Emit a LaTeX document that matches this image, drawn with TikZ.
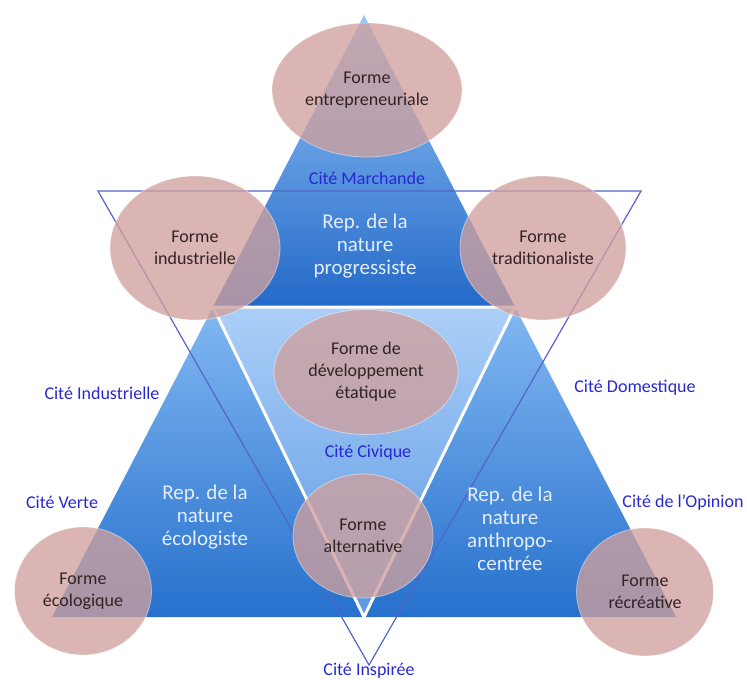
\documentclass[tikz,border=0pt]{standalone}
\usepackage{fontspec}
\setmainfont{Carlito}
\usetikzlibrary{positioning,shapes.geometric}

\definecolor{formefill}{RGB}{207,160,158}
\definecolor{formetext}{RGB}{50,35,35}
\definecolor{citeblue}{RGB}{40,40,210}
\definecolor{reptext}{RGB}{228,237,252}
\definecolor{outlineblue}{RGB}{85,100,200}
\definecolor{topA}{RGB}{150,198,248}
\definecolor{topB}{RGB}{35,105,200}
\definecolor{midA}{RGB}{172,207,248}
\definecolor{midB}{RGB}{90,152,226}
\definecolor{lowA}{RGB}{130,184,242}
\definecolor{lowB}{RGB}{38,112,204}

\begin{document}
\begin{tikzpicture}[x=1bp,y=-1bp,
  forme/.style={ellipse,fill=formefill,fill opacity=0.78,draw=white,draw opacity=0.45,line width=0.8bp,text opacity=1,text=formetext,align=center,inner sep=0pt,font=\fontsize{18bp}{22bp}\selectfont},
  cite/.style={text=citeblue,inner sep=0pt,font=\fontsize{18bp}{22bp}\selectfont},
  rep/.style={text=reptext,align=center,inner sep=0pt,font=\fontsize{21bp}{23bp}\selectfont}]
\useasboundingbox (0,0) rectangle (747,680);

% big triangle and its four parts
\coordinate (apex) at (364,15);
\coordinate (bl) at (52,617);
\coordinate (br) at (676,617);
\coordinate (ml) at (213,307);
\coordinate (mr) at (515,307);
\coordinate (mb) at (364,617);
\shade[top color=topA,bottom color=topB] (apex) -- (ml) -- (mr) -- cycle;
\shade[top color=lowA,bottom color=lowB] (ml) -- (bl) -- (mb) -- cycle;
\shade[top color=lowA,bottom color=lowB] (mr) -- (br) -- (mb) -- cycle;
\shade[top color=midA,bottom color=midB] (ml) -- (mr) -- (mb) -- cycle;
\draw[white,line width=3bp] (ml) -- (mr) -- (mb) -- cycle;

% inverted outline triangle
\coordinate (o1) at (98,191);
\coordinate (o2) at (641,191);
\coordinate (o3) at (369,665);
\draw[outlineblue,line width=1.2bp] (o1) -- (o2) -- (o3) -- cycle;

% formes
\node[forme,minimum width=190bp,minimum height=134bp] (entrepreneuriale) at (367,90) {Forme\\entrepreneuriale};
\node[forme,minimum width=170bp,minimum height=144bp] (industrielle) at (195,248) {Forme\\industrielle};
\node[forme,minimum width=166bp,minimum height=144bp] (traditionaliste) at (543,248) {Forme\\traditionaliste};
\node[forme,minimum width=184bp,minimum height=125bp] (etatique) at (366,372) {Forme de\\développement\\étatique};
\node[forme,minimum width=140bp,minimum height=124bp] (alternative) at (363,536) {Forme\\alternative};
\node[forme,minimum width=137bp,minimum height=128bp] (ecologique) at (83,591) {Forme\\écologique};
\node[forme,minimum width=137bp,minimum height=128bp] (recreative) at (645,592) {Forme\\récréative};

% cites
\node[cite] (marchande) at (367,178) {Cité Marchande};
\node[cite] (citeindus) at (102,393) {Cité Industrielle};
\node[cite] (domestique) at (635,388) {Cité Domestique};
\node[cite] (civique) at (368,453) {Cité Civique};
\node[cite] (verte) at (62,502) {Cité Verte};
\node[cite] (opinion) at (683,503) {Cité de l'Opinion};
\node[cite] (inspiree) at (369,671) {Cité Inspirée};

% representations
\node[rep] (progressiste) at (365,246) {Rep. de la\\nature\\progressiste};
\node[rep] (ecologiste) at (205,517) {Rep. de la\\nature\\écologiste};
\node[rep] (anthropo) at (510,529) {Rep. de la\\nature\\anthropo-\\centrée};
\end{tikzpicture}
\end{document}
